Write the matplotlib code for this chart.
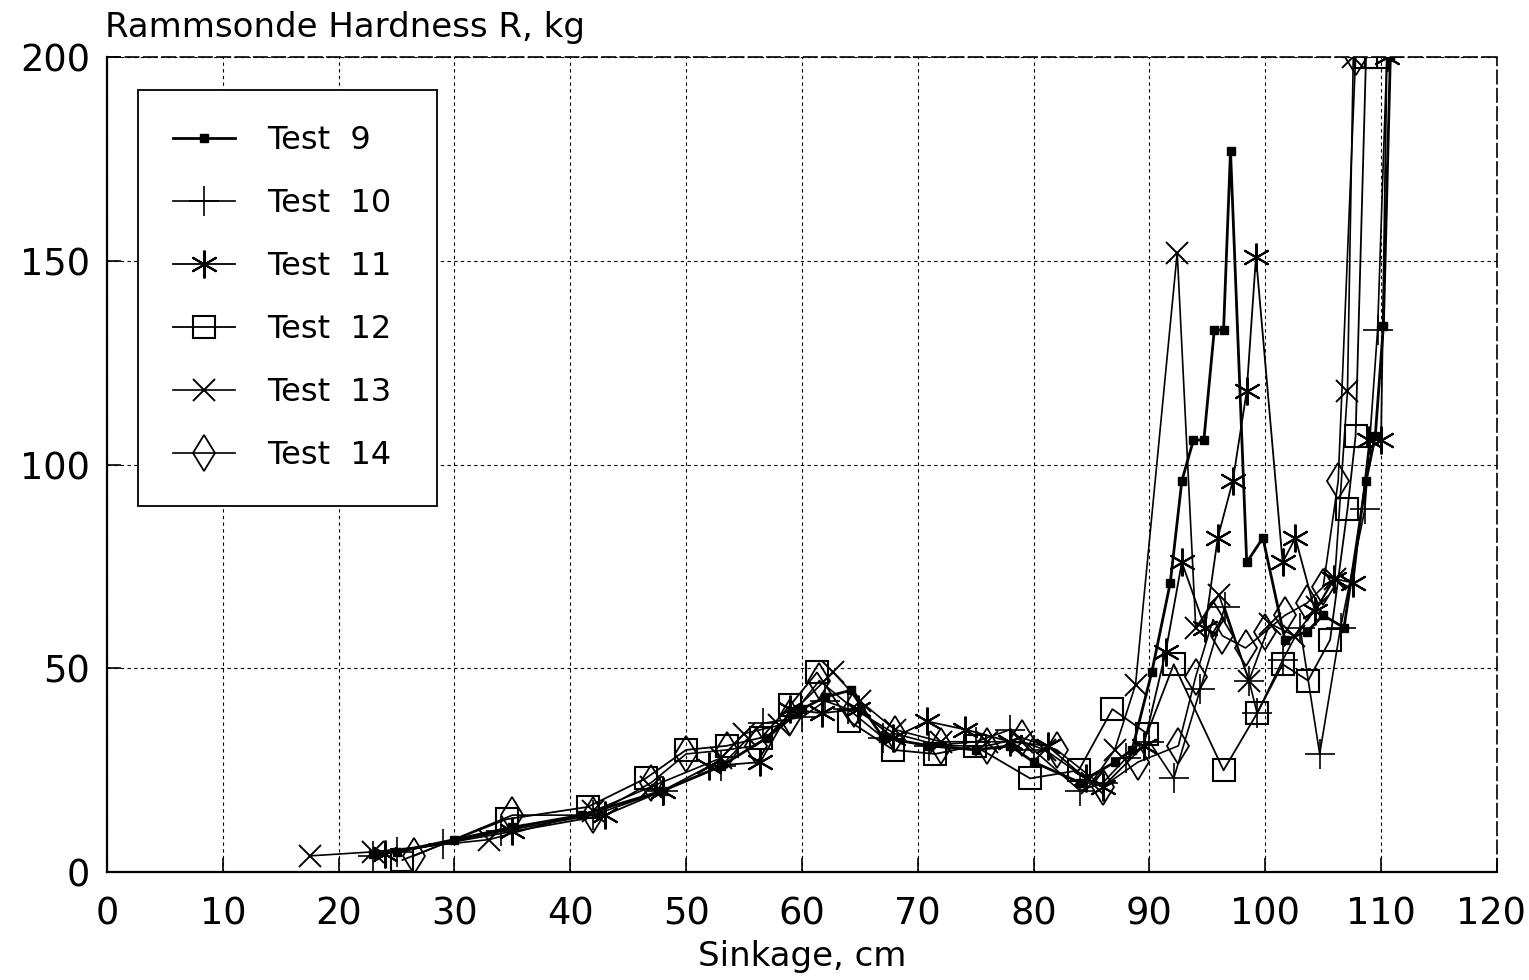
import matplotlib
matplotlib.use('Agg')
import matplotlib.pyplot as plt
import matplotlib.transforms as mtransforms

# data: sinkage (cm) vs hardness (kg)
x9 = [23, 25, 30, 35, 41, 48, 53, 57, 60, 62, 64.2, 67, 71, 75, 78, 80, 84, 87, 88.5,
      90.2, 91.8, 92.8, 93.8, 94.7, 95.6, 96.4, 97.0, 98.4, 99.8, 101.7, 103.6, 105,
      106.8, 108.7, 109.5, 110.2, 110.8]
y9 = [4.5, 5, 8, 11, 14, 20, 26, 33, 40, 43, 44.6, 33, 31, 30, 31, 27, 22, 27, 30,
      49, 71, 96, 106, 106, 133, 133, 177, 76, 82, 57, 59, 63,
      60, 96, 107, 134, 200]

x10 = [23, 25, 29, 34, 42, 48, 53, 56.6, 60, 62, 64, 67, 71, 75, 78, 80, 84, 86, 88,
       90, 92.1, 94.4, 96.5, 98.6, 99.3, 101.5, 103, 104.7, 106.5, 108.6, 109.7, 110.5]
y10 = [4, 5, 7, 10, 14, 20, 26, 36.5, 38, 42, 40, 33, 31, 32, 35, 30, 20, 22, 28,
       32, 23, 45, 65, 47, 39, 52, 60, 29, 60, 89, 133, 200]

x11 = [24, 35, 43, 48, 52, 56.4, 59, 61.7, 64.8, 67.9, 70.8, 74.1, 78, 81.2, 84.5,
       86, 89.5, 91.4, 92.8, 94.8, 95.9, 97.2, 98.4, 99.2, 101.5, 102.6, 104.3,
       105.9, 107.6, 109, 110, 110.5]
y11 = [4.5, 10, 14, 20, 26, 27, 40, 39, 40, 33, 37, 35, 32, 31, 23,
       21, 31, 54, 76, 60, 82, 96, 118, 151, 76, 82, 64,
       72, 71, 106, 106, 200]

x12 = [25.5, 34.5, 41.5, 46.5, 50, 53.5, 56.5, 59, 61.3, 64.1, 67.9, 71.5, 74.9,
       79.7, 83.9, 86.8, 89.8, 92.1, 96.4, 99.3, 101.5, 103.7, 105.6, 107.1, 107.8,
       108.7, 109.6]
y12 = [3, 13, 16, 23, 30, 31, 33, 41, 49, 37, 30, 29, 31,
       23, 25, 40, 34, 51, 25, 39, 51, 47, 57, 89, 107,
       200, 200]

x13 = [17.5, 23, 33, 42, 47, 53, 55, 58, 62.7, 65, 68, 72, 76, 79, 81, 85, 87,
       88.8, 92.4, 94, 96, 98.6, 100.4, 102.5, 104.5, 106, 107.1, 107.6]
y13 = [4, 5, 8, 15, 21, 28, 34, 36, 49, 42, 35, 32, 32, 32, 30, 22, 30,
       46, 152, 60, 68, 47, 61, 58, 65, 72, 118, 200]

x14 = [26.5, 35, 42, 47, 50, 53.5, 56, 59, 61.5, 64.5, 68, 72, 76, 79, 82, 86,
       89, 92.5, 94, 95.5, 96.3, 98.3, 100, 101.7, 103.6, 105, 106.3, 107.8]
y14 = [4, 14, 14, 22, 29, 30, 31, 38, 47, 40, 34, 31, 31, 33, 30, 21,
       27, 31, 48, 62, 58, 55, 59, 63, 66, 70, 96, 200]

labels = ['Test  9 ', 'Test  10 ', 'Test  11 ', 'Test  12 ', 'Test  13 ', 'Test  14 ']

plt.rcParams['font.family'] = 'DejaVu Sans'

fig = plt.figure(figsize=(15.29, 9.8), dpi=100)
ax = fig.add_axes([0.070, 0.110, 0.909, 0.832])

ax.plot(x9, y9, '-', color='black', lw=2.0, marker='s', ms=6, label=labels[0])
ax.plot(x10, y10, '-', color='black', lw=1.2, marker='+', ms=22, mew=1.2, label=labels[1])
ax.plot(x11, y11, '-', color='black', lw=1.3, marker=(6, 2, 0), ms=20, mew=1.5, label=labels[2])
ax.plot(x12, y12, '-', color='black', lw=1.3, marker='s', ms=16, mfc='none', mew=1.5, label=labels[3])
ax.plot(x13, y13, '-', color='black', lw=1.2, marker='x', ms=16, mew=1.4, label=labels[4])
ax.plot(x14, y14, '-', color='black', lw=1.2, marker='d', ms=18, mfc='none', mew=1.3, label=labels[5])

ax.set_xlim(0, 120)
ax.set_ylim(0, 200)
ax.set_xticks(range(0, 121, 10))
ax.set_yticks([0, 50, 100, 150, 200])
ax.tick_params(direction='in', length=10, width=1.2, labelsize=26.5)
ax.tick_params(axis='x', pad=17)
ax.tick_params(axis='y', pad=12)
ax.grid(True, color='black', linestyle=(0, (3, 3)), lw=0.8)

# last x label sits at the figure edge, nudge it in a bit
lab = ax.get_xticklabels()[-1]
lab.set_transform(lab.get_transform() + mtransforms.ScaledTranslation(-6/100, 0, fig.dpi_scale_trans))

for s in ['left', 'bottom']:
    ax.spines[s].set_linewidth(1.6)
for s in ['top', 'right']:
    ax.spines[s].set_linewidth(1.2)
    ax.spines[s].set_linestyle((0, (8, 3)))

ax.set_xlabel('Sinkage, cm', fontsize=24.5)
ax.xaxis.set_label_coords(0.5, -0.083)
fig.text(105/1529, 1 - 28/980, 'Rammsonde Hardness R, kg', fontsize=24.5,
         ha='left', va='center')

leg = ax.legend(loc='upper left', bbox_to_anchor=(138/1529, 1 - 90/980),
                bbox_transform=fig.transFigure, fontsize=23, frameon=True,
                fancybox=False, edgecolor='black', handlelength=1.95,
                labelspacing=1.0, borderpad=1.1, handletextpad=1.0,
                borderaxespad=0)
leg.get_frame().set_linewidth(1.3)
leg.get_frame().set_alpha(1)

plt.savefig('out.png', dpi=100)
